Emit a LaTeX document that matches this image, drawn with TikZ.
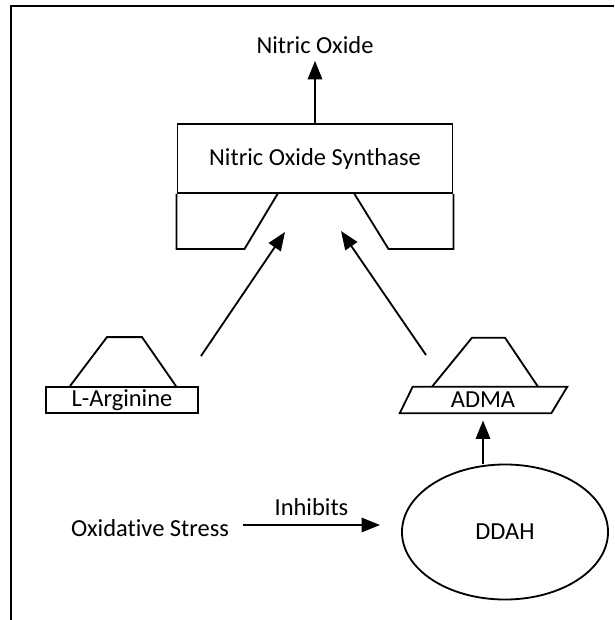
\documentclass[tikz,border=0pt]{standalone}
\usepackage{fontspec}
\setmainfont[Ligatures=NoCommon]{Carlito}
\usetikzlibrary{arrows.meta,shapes.geometric,calc}

\tikzset{
  line/.style={line width=1.3pt},
  arr/.style={line, -{Triangle[length=4.6mm,width=3.6mm]}},
  lbl/.style={font=\fontsize{17.4}{20}\selectfont, inner sep=0pt},
}

\begin{document}
\begin{tikzpicture}[x=0.025cm,y=-0.025cm]
  \useasboundingbox (0,0) rectangle (614,620);
  % frame
  \draw[line width=1.7pt] (11,620) -- (11,6) -- (614,6);

  % enzyme with its two pockets
  \node[lbl,inner sep=5pt] (no) at (315,45) {Nitric Oxide};
  \node[lbl,draw,line,minimum width=6.875cm,minimum height=1.725cm] (nos) at (315,158.5) {Nitric Oxide Synthase};
  \draw[line] (nos.south west) -- ++(0,55) -- ++(68,0) -- ++(33,-55);
  \draw[line] (nos.south east) -- ++(0,55) -- ++(-65,0) -- ++(-34,-55);
  \draw[arr] (nos.north) -- (no.south);

  % substrates
  \node[lbl,draw,line,minimum width=3.8cm,minimum height=0.65cm] (larg) at (122,400) {L-Arginine};
  \draw[line] ($(larg.north)+(-52,0)$) -- ++(37,-49) -- ++(35,0) -- ++(34,49);

  \node[lbl,minimum width=3.8cm,minimum height=0.65cm] (adma) at (483,400) {ADMA};
  \draw[line] ($(adma.south west)+(-7,0)$) -- ($(adma.north west)+(6,0)$)
    -- ($(adma.north east)+(8,0)$) -- ($(adma.south east)+(-8,0)$) -- cycle;
  \draw[line] ($(adma.north)+(-51,0)$) -- ++(40,-49) -- ++(33,0) -- ++(33,49);

  \coordinate (largend) at (201,356);
  \coordinate (largtip) at (285,232);
  \coordinate (admaend) at (426,355);
  \coordinate (admatip) at (341,231);
  \draw[arr] (largend) -- (largtip);
  \draw[arr] (admaend) -- (admatip);

  % DDAH
  \node[lbl,draw,line,ellipse,minimum width=5.15cm,minimum height=3.375cm] (ddah) at (505,532) {DDAH};
  \draw[arr,shorten >=0.18cm] (ddah.north -| adma.south) -- (adma.south);

  \node[lbl] (ox) at (150,528) {Oxidative Stress};
  \coordinate (inhs) at (243,525);
  \coordinate (inhe) at (380,525);
  \draw[arr] (inhs) -- node[lbl,above=0.2cm] (inh) {Inhibits} (inhe);
\end{tikzpicture}
\end{document}
